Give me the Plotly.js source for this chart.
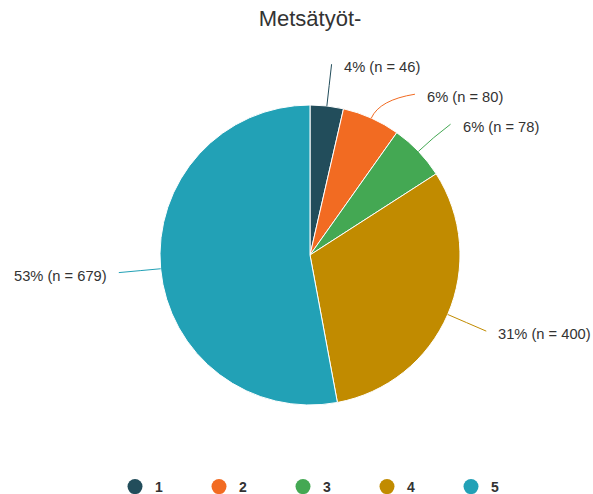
<!DOCTYPE html>
<html>
<head>
<meta charset="utf-8">
<script src="https://cdn.plot.ly/plotly-3.0.1.min.js"></script>
<style>html,body{margin:0;padding:0;background:#fff;}#chart{width:593px;height:494px;}</style>
</head>
<body>
<div id="chart"></div>
<script>
const title = 'Metsätyöt-';
const categories = ['1', '2', '3', '4', '5'];
const values = [46, 80, 78, 400, 679];
const colors = ['#224d5b', '#f26b22', '#44a853', '#c18b00', '#22a1b6'];

const W = 593, H = 494;
const CX = 310, CY = 255, R = 150;   // pie geometry (px)
const RL = 192, RC = 170, GAP = 30;  // label radius, curve control radius, min label gap
const px = x => x / W;
const py = y => 1 - y / H;

const total = values.reduce((a, b) => a + b, 0);
let cum = 0;
const items = values.map((v, i) => {
  const a0 = cum / total * 360;
  cum += v;
  const a1 = cum / total * 360;
  const th = (a0 + a1) / 2 * Math.PI / 180;
  return {
    i, v, th,
    side: Math.sin(th) >= 0 ? 1 : -1,
    ly: CY - RL * Math.cos(th),
    text: Math.round(v / total * 100) + '% (n = ' + v + ')'
  };
});
[1, -1].forEach(s => {
  const arr = items.filter(d => d.side === s).sort((a, b) => a.ly - b.ly);
  for (let k = 1; k < arr.length; k++) {
    if (arr[k].ly - arr[k - 1].ly < GAP) arr[k].ly = arr[k - 1].ly + GAP;
  }
});

const shapes = [], annotations = [];
items.forEach(d => {
  const x0 = CX + R * Math.sin(d.th), y0 = CY - R * Math.cos(d.th);
  const xc = CX + RC * Math.sin(d.th), yc = CY - RC * Math.cos(d.th);
  const dy = d.ly - CY;
  const xe = CX + d.side * Math.sqrt(Math.max(0, RL * RL - dy * dy));
  const ye = d.ly;
  shapes.push({
    type: 'path', xref: 'paper', yref: 'paper',
    path: `M ${px(x0)} ${py(y0)} Q ${px(xc)} ${py(yc)} ${px(xe)} ${py(ye)}`,
    line: {color: colors[d.i], width: 1}
  });
  annotations.push({
    xref: 'paper', yref: 'paper', x: px(xe), y: py(ye),
    xanchor: d.side > 0 ? 'left' : 'right', yanchor: 'middle',
    xshift: d.side > 0 ? 10 : -10, yshift: -3,
    showarrow: false, text: d.text,
    font: {family: 'Liberation Sans, Arial, sans-serif', size: 14.7, color: '#333333'}
  });
});

const traces = [{
  type: 'pie',
  labels: categories,
  values: values,
  sort: false,
  direction: 'clockwise',
  rotation: 0,
  textinfo: 'none',
  hoverinfo: 'none',
  showlegend: false,
  marker: {colors: colors, line: {color: '#ffffff', width: 1}},
  domain: {x: [px(CX - R), px(CX + R)], y: [py(CY + R), py(CY - R)]}
}];
categories.forEach((c, i) => {
  traces.push({
    type: 'scatter', mode: 'markers', x: [null], y: [null], name: c,
    marker: {color: colors[i], size: 15, symbol: 'circle'},
    hoverinfo: 'none', showlegend: true
  });
});

const layout = {
  width: W, height: H,
  margin: {l: 0, r: 0, t: 0, b: 0, autoexpand: false},
  paper_bgcolor: '#ffffff', plot_bgcolor: '#ffffff',
  title: {
    text: title, x: px(310), xanchor: 'center', xref: 'paper',
    y: 1 - 18 / H, yanchor: 'middle', yref: 'container',
    font: {family: 'Liberation Sans, Arial, sans-serif', size: 22, color: '#333333'}
  },
  xaxis: {visible: false}, yaxis: {visible: false},
  showlegend: true,
  legend: {
    orientation: 'h', x: px(115), xanchor: 'left', y: py(487), yanchor: 'middle',
    entrywidth: 39, entrywidthmode: 'pixels', itemsizing: 'trace',
    font: {family: 'Liberation Sans, Arial, sans-serif', size: 14, color: '#333333', weight: 'bold'},
    bgcolor: 'rgba(0,0,0,0)'
  },
  shapes: shapes,
  annotations: annotations
};

Plotly.newPlot('chart', traces, layout, {displayModeBar: false, staticPlot: true});
</script>
</body>
</html>
